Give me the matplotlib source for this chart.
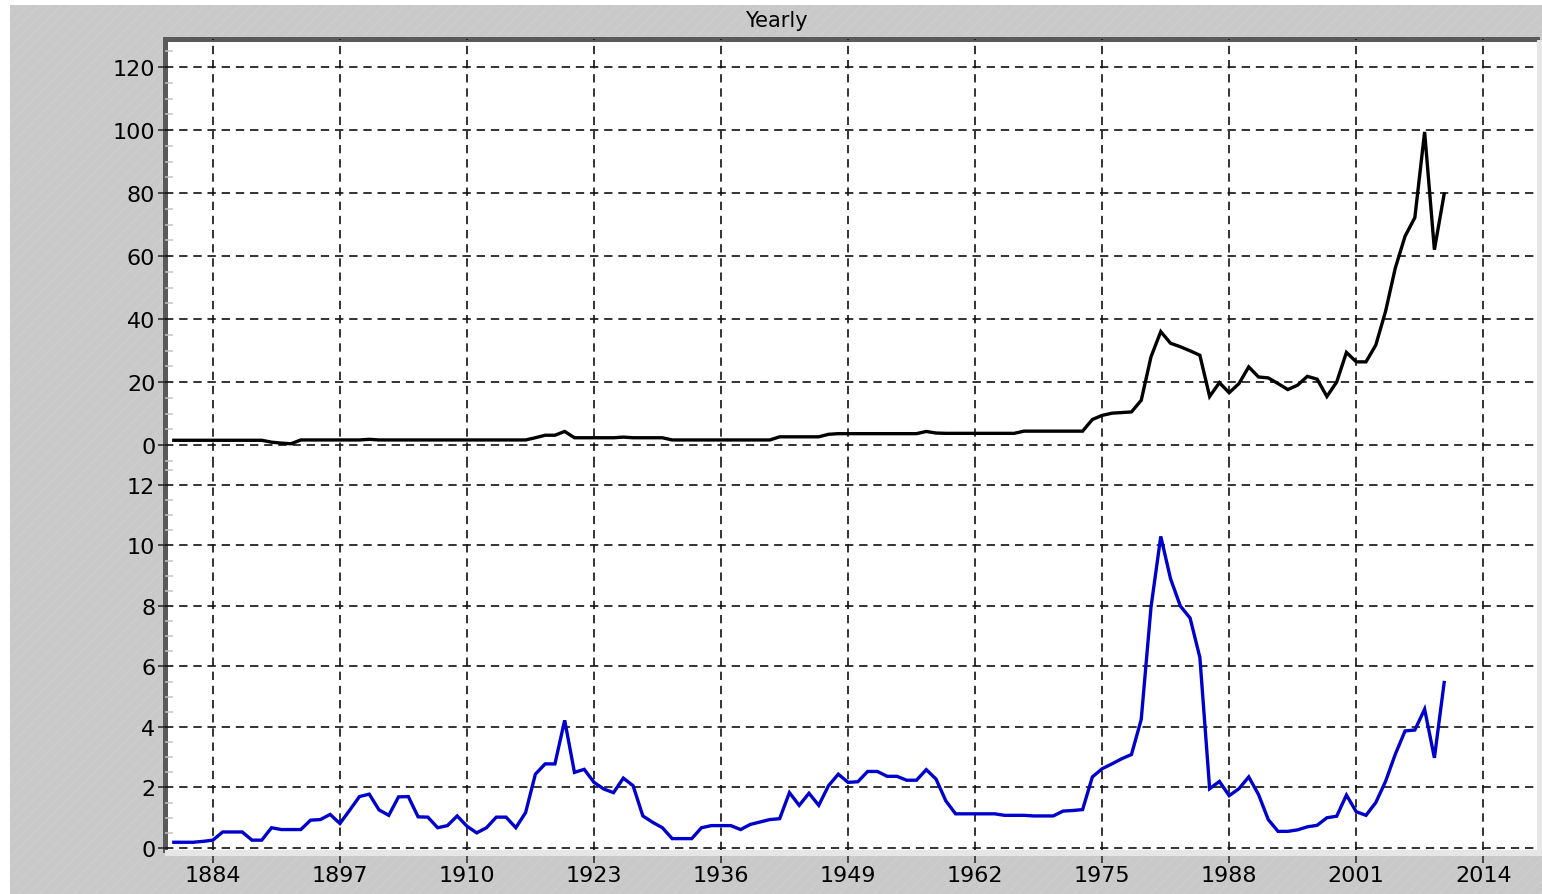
import numpy as np
import matplotlib
matplotlib.use('Agg')
import matplotlib.pyplot as plt
from matplotlib.patches import Rectangle
from matplotlib.ticker import MultipleLocator

# yearly values, 1880..2010
years = np.arange(1880, 2011)

top_vals = [1.5, 1.5, 1.5, 1.5, 1.5, 1.5, 1.5, 1.5, 1.5, 1.5,
            0.9, 0.6, 0.4, 1.6, 1.6, 1.6, 1.6, 1.6, 1.6, 1.6,
            1.8, 1.6, 1.6, 1.6, 1.6, 1.6, 1.6, 1.6, 1.6, 1.6,
            1.6, 1.6, 1.6, 1.6, 1.6, 1.6, 1.6, 2.3, 3.1, 3.1,
            4.3, 2.3, 2.3, 2.3, 2.3, 2.3, 2.5, 2.3, 2.3, 2.3,
            2.3, 1.6, 1.6, 1.6, 1.6, 1.6, 1.6, 1.6, 1.6, 1.6,
            1.6, 1.6, 2.6, 2.6, 2.6, 2.6, 2.6, 3.4, 3.6, 3.6,
            3.6, 3.6, 3.6, 3.6, 3.6, 3.6, 3.6, 4.3, 3.8, 3.7,
            3.7, 3.7, 3.7, 3.7, 3.7, 3.7, 3.7, 4.4, 4.4, 4.4,
            4.4, 4.4, 4.4, 4.4, 8.1, 9.4, 10.1, 10.3, 10.5, 14.2,
            28.0, 36.0, 32.3, 31.2, 29.9, 28.5, 15.4, 19.8, 16.6, 19.5,
            24.8, 21.6, 21.3, 19.5, 17.6, 19.0, 21.8, 20.9, 15.4, 20.0,
            29.4, 26.4, 26.4, 31.7, 42.4, 56.2, 66.3, 72.2, 99.4, 62.0,
            79.7]

bottom_vals = [0.19, 0.19, 0.19, 0.22, 0.26, 0.53, 0.53, 0.53, 0.26, 0.26,
               0.67, 0.61, 0.61, 0.61, 0.92, 0.94, 1.11, 0.81, 1.25, 1.70,
               1.78, 1.26, 1.08, 1.69, 1.70, 1.03, 1.02, 0.67, 0.74, 1.06,
               0.72, 0.50, 0.67, 1.02, 1.02, 0.67, 1.17, 2.44, 2.78, 2.78,
               4.22, 2.50, 2.60, 2.17, 1.95, 1.83, 2.31, 2.06, 1.06, 0.85,
               0.67, 0.31, 0.31, 0.31, 0.67, 0.74, 0.74, 0.74, 0.61, 0.78,
               0.86, 0.94, 0.97, 1.83, 1.41, 1.81, 1.41, 2.06, 2.44, 2.17,
               2.19, 2.53, 2.53, 2.37, 2.37, 2.24, 2.24, 2.59, 2.28, 1.56,
               1.13, 1.13, 1.13, 1.13, 1.13, 1.08, 1.08, 1.08, 1.06, 1.06,
               1.06, 1.22, 1.24, 1.27, 2.35, 2.62, 2.78, 2.95, 3.09, 4.25,
               7.96, 10.3, 8.9, 8.0, 7.6, 6.3, 1.96, 2.20, 1.73, 1.96,
               2.35, 1.77, 0.94, 0.55, 0.55, 0.60, 0.70, 0.75, 1.00, 1.05,
               1.75, 1.20, 1.08, 1.50, 2.20, 3.10, 3.87, 3.90, 4.59, 2.98,
               5.47]

x_ticks = [1884, 1897, 1910, 1923, 1936, 1949, 1962, 1975, 1988, 2001, 2014]
top_ticks = [0, 20, 40, 60, 80, 100, 120]
bottom_ticks = [0, 2, 4, 6, 8, 10, 12]

W, H = 1542, 895
plt.rcParams['lines.scale_dashes'] = False
plt.rcParams['hatch.linewidth'] = 0.6
fig = plt.figure(figsize=(W / 100, H / 100), dpi=100)
fig.patch.set_facecolor('#c9c9c9')

# faint diagonal texture + white margin strips
fig.patches.append(Rectangle((0, 0), 1, 1, transform=fig.transFigure, facecolor='none',
                             edgecolor='#d0d0d0', hatch='///', linewidth=0, zorder=-5))
fig.patches.append(Rectangle((0, 1 - 6 / H), 1, 6 / H, transform=fig.transFigure,
                             facecolor='white', edgecolor='none', zorder=-4))
fig.patches.append(Rectangle((0, 0), 10 / W, 1, transform=fig.transFigure,
                             facecolor='white', edgecolor='none', zorder=-4))

left = 165 / W
width = (1537 - 165) / W
ax1 = fig.add_axes([left, 1 - 466 / H, width, (466 - 40) / H])
ax2 = fig.add_axes([left, 1 - 851 / H, width, (851 - 466) / H], sharex=ax1)

# light strips right of and below the plot area
fig.patches.append(Rectangle((1537 / W, 1 - 857 / H), 5 / W, (857 - 41) / H,
                             transform=fig.transFigure, facecolor='#e6e6e6', edgecolor='none'))
fig.patches.append(Rectangle((left, 1 - 857 / H), (1542 - 165) / W, 6 / H,
                             transform=fig.transFigure, facecolor='#e6e6e6', edgecolor='none'))

ax1.plot(years, top_vals, color='black', lw=2.4, solid_joinstyle='miter', zorder=3)
ax2.plot(years, bottom_vals, color='#0000cc', lw=2.4, solid_joinstyle='miter', zorder=3)

dash = (0, (6.0, 4.2))
for ax, ticks, lim, minor in [(ax1, top_ticks, (-6.35, 128.9), 5),
                              (ax2, bottom_ticks, (-0.066, 12.66), 0.5)]:
    ax.set_facecolor('white')
    ax.set_xlim(1879.1, 2019.5)
    ax.set_ylim(*lim)
    ax.set_yticks(ticks)
    ax.yaxis.set_minor_locator(MultipleLocator(minor))
    ax.set_xticks(x_ticks)
    ax.grid(True, which='major', color='#111111', linestyle=dash, linewidth=1.2)
    ax.set_axisbelow(False)
    for s in ['right', 'bottom', 'top']:
        ax.spines[s].set_visible(False)
    ax.spines['left'].set_color('#5a5a5a')
    ax.spines['left'].set_linewidth(3.6)
    ax.tick_params(axis='y', which='major', direction='out', length=5, width=1.1,
                   color='#222222', labelsize=16, pad=2)
    ax.tick_params(axis='y', which='minor', direction='in', length=6, width=1.1,
                   color='#c4c4c4')
    ax.tick_params(axis='x', which='minor', length=0)

ax1.spines['top'].set_visible(True)
ax1.spines['top'].set_color('#5a5a5a')
ax1.spines['top'].set_linewidth(3.6)
ax1.tick_params(axis='x', which='major', length=0, labelbottom=False)
ax2.tick_params(axis='x', which='major', direction='out', length=9, width=1.1,
                color='#222222', labelsize=16, pad=2)
ax2.set_xticklabels([str(t) for t in x_ticks])

fig.text(776 / W, 1 - 21 / H, 'Yearly', ha='center', va='center', fontsize=15)

fig.savefig('out.png', dpi=100, facecolor=fig.get_facecolor())
